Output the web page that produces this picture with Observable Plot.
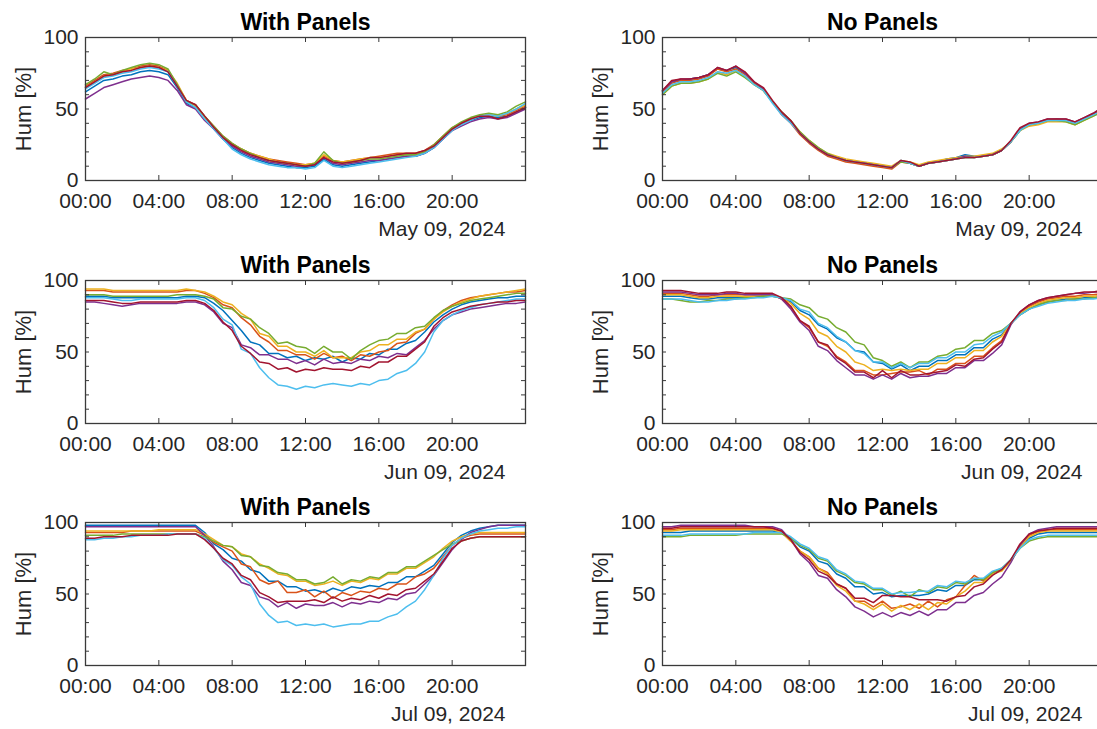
<!DOCTYPE html>
<html>
<head>
<meta charset="utf-8">
<script src="https://cdn.jsdelivr.net/npm/d3@7"></script>
<script src="https://cdn.jsdelivr.net/npm/@observablehq/plot@0.6"></script>
<style>
  html, body { margin: 0; padding: 0; background: #fff; overflow: hidden; }
  #root { position: relative; width: 1097px; height: 729px; overflow: hidden; background: #fff; }
  .cell { position: absolute; width: 548px; height: 243px; }
  .cell svg { max-width: none !important; }
</style>
</head>
<body>
<div id="root"></div>
<script>
// ---- sampling grid (hours of day, every 30 min) ----
const times = [0,0.5,1,1.5,2,2.5,3,3.5,4,4.5,5,5.5,6,6.5,7,7.5,8,8.5,9,9.5,10,10.5,11,11.5,12,12.5,13,13.5,14,14.5,15,15.5,16,16.5,17,17.5,18,18.5,19,19.5,20,20.5,21,21.5,22,22.5,23,23.5,24];
const xTicks = [0, 4, 8, 12, 16, 20];
const xTickLabels = ["00:00", "04:00", "08:00", "12:00", "16:00", "20:00"];
const yTicks = [0, 50, 100];
const yMinorTicks = [10, 20, 30, 40, 50, 60, 70, 80, 90];
const sensorNames = ["S1", "S2", "S3", "S4", "S5", "S6", "S7"];
const sensorColors = ["#0072BD", "#D95319", "#EDB120", "#7E2F8E", "#77AC30", "#4DBEEE", "#A2142F"];
const panelTitles = ["With Panels", "No Panels"];
const dateLabels = ["May 09, 2024", "Jun 09, 2024", "Jul 09, 2024"];
const yLabel = "Hum [%]";

// ---- humidity series, order: blue, orange, yellow, purple, green, cyan, dark red ----
const withMay = [
  [62,66,70,71,73,74,76,77,76,74,65,54,51,43,36,29,23,19,16,14,12,11,10,9,9,10,15,11,10,11,12,13,14,15,16,17,17,19,23,29,35,39,42,44,45,44,45,48,51],
  [66,70,74,75,77,78,80,81,80,77,67,56,53,45,38,31,26,22,19,17,15,14,13,12,11,12,17,14,13,14,15,16,17,18,19,19,19,21,25,31,37,40,43,45,46,45,46,49,52],
  [65,69,73,74,76,78,79,80,79,77,68,56,52,44,37,30,25,22,19,17,15,13,12,11,11,12,18,14,13,14,15,16,16,17,18,18,19,20,24,30,36,40,43,45,46,45,47,50,53],
  [57,61,65,67,69,71,72,73,72,70,63,53,50,42,36,29,24,20,17,15,13,12,11,10,10,11,16,12,11,12,13,14,14,15,16,17,17,19,23,29,35,38,41,43,44,43,44,47,50],
  [67,71,76,74,77,79,81,82,81,78,67,55,53,45,38,31,26,22,19,16,14,13,12,11,10,12,20,14,12,13,14,15,15,16,17,18,18,20,25,31,37,41,44,46,47,46,48,52,55],
  [64,68,72,73,75,76,78,79,78,76,66,55,51,43,36,29,22,18,15,13,11,10,9,9,8,9,14,10,9,10,11,12,13,14,15,16,17,19,23,29,35,39,42,45,46,45,47,50,54],
  [65,69,73,74,76,77,79,80,79,76,66,56,53,45,37,30,25,21,18,16,14,13,12,11,10,11,16,13,12,13,14,16,16,17,18,19,19,21,24,30,36,40,43,45,45,43,45,48,51]
];
const noMay = [
  [62,69,70,71,72,74,78,77,79,75,68,64,55,47,41,33,27,22,18,16,14,13,12,11,10,9,14,12,10,12,13,15,16,18,17,17,18,21,27,35,39,40,42,42,42,40,43,46,49],
  [62,68,70,70,71,73,78,76,78,74,68,63,55,46,40,32,26,21,17,15,13,12,11,10,9,8,13,12,10,12,13,14,15,16,16,17,18,21,27,36,39,40,42,43,42,40,43,46,50],
  [60,66,68,68,69,71,76,74,77,73,67,63,55,47,41,34,28,23,19,17,15,14,13,12,11,10,14,13,11,13,14,15,16,17,17,18,19,22,27,35,38,39,41,41,41,39,42,45,49],
  [63,69,71,71,72,74,79,77,80,75,69,64,55,47,41,33,27,22,18,16,14,13,12,11,10,9,14,12,10,12,13,14,15,17,16,17,18,21,27,36,40,41,43,43,43,41,44,47,51],
  [60,66,68,68,69,71,75,73,76,72,67,63,55,48,42,34,28,23,19,16,14,13,12,11,10,9,13,12,10,12,13,14,15,16,16,17,18,21,27,35,39,40,42,42,41,39,42,45,48],
  [61,67,69,69,70,72,76,75,77,73,67,63,54,46,40,33,27,22,18,16,14,13,12,11,10,9,14,12,10,12,13,14,15,16,16,17,18,21,27,35,39,40,42,42,42,40,43,46,49],
  [63,70,71,71,72,74,79,77,80,76,69,65,56,48,42,33,27,22,18,16,14,13,12,11,10,9,14,13,10,12,13,14,15,16,16,17,18,21,28,37,40,41,43,43,43,41,44,47,51]
];
const withJun = [
  [89,89,89,88,88,88,88,88,88,88,88,89,89,88, 84,79,72,65,57,55,49,49,46,47,44,46,45,47,43,46,45,49,48,52,52,56,58,64, 71,76,80,83,85,86,87,88,88,89,89],
  [93,93,93,92,92,92,92,92,92,92,92,93,93,91, 88,83,81,74,69,61,57,51,51,48,48,45,49,46,47,44,48,47,50,51,56,57,63,66, 73,79,83,86,88,89,90,91,92,92,93],
  [94,94,94,93,93,93,93,93,93,93,93,94,93,92, 89,85,83,77,73,63,61,54,54,50,50,47,51,46,46,46,50,51,55,55,59,59,64,66, 73,78,82,85,87,89,90,91,92,93,94],
  [85,85,84,83,82,83,84,84,84,84,84,85,85,83, 78,70,67,55,53,48,48,45,45,42,44,41,45,42,43,42,45,44,47,46,49,48,53,58, 66,72,76,78,80,81,82,83,84,84,85],
  [90,90,90,89,89,89,89,89,89,89,90,90,90,89, 87,81,80,75,73,67,63,56,57,54,53,49,54,50,50,45,51,55,58,59,63,63,67,68, 74,79,82,84,86,87,88,89,90,91,91],
  [88,88,88,87,86,86,87,87,87,87,87,88,88,86, 81,73,69,52,49,39,32,27,26,24,26,25,27,28,27,26,28,27,30,31,35,37,42,50, 64,72,76,79,81,83,84,85,86,87,87],
  [86,86,86,85,84,84,85,85,85,85,85,86,86,84, 79,71,65,54,49,43,42,38,39,36,38,37,39,38,38,37,40,39,43,43,47,47,52,57, 68,74,78,80,82,83,84,85,85,86,86]
];
const noJun = [
  [89,89,89,88,87,87,88,88,88,88,89,89,89,88, 85,79,76,69,66,60,57,51,50,43,42,38,41,37,40,40,44,44,48,48,53,53,59,62, 70,76,80,83,85,86,87,87,88,88,89],
  [91,91,91,90,89,89,90,90,90,90,90,90,90,87, 81,72,67,57,54,47,43,37,37,34,34,35,36,36,37,34,38,38,42,42,47,47,53,58, 70,77,82,85,87,88,89,89,90,90,91],
  [90,90,90,89,88,88,89,89,89,89,89,90,90,88, 84,77,73,64,61,54,50,43,41,37,38,37,38,37,38,38,42,42,46,46,51,51,57,61, 70,77,81,84,86,87,88,88,89,89,90],
  [92,92,92,91,90,90,90,91,91,90,90,90,90,87, 80,71,65,54,51,44,39,34,34,31,34,31,35,32,33,33,35,35,39,39,44,44,49,55, 69,78,83,86,88,89,90,91,91,92,92],
  [87,87,86,85,85,86,86,87,87,88,88,89,89,88, 87,83,81,75,73,67,64,57,55,46,44,40,43,39,43,43,47,48,52,53,58,58,63,65, 70,76,80,83,85,86,86,87,87,88,88],
  [87,87,87,86,85,85,86,86,87,87,88,88,89,88, 86,80,78,70,67,61,57,51,49,43,43,39,42,39,42,42,46,46,50,50,55,56,61,64, 70,76,80,82,84,85,86,86,87,87,88],
  [93,93,93,92,91,91,91,92,92,91,91,91,91,88, 82,72,68,57,55,46,42,36,36,32,37,32,37,34,34,35,36,37,41,40,45,46,52,57, 70,78,83,86,88,89,90,91,92,92,93]
];
const withJul = [
  [98,98,98,98,98,98,98,98,98,98,98,98,98,93, 85,81,75,73,67,65,59,59,55,55,52,53,51,54,52,55,54,56,55,58,58,62,62,66, 70,78,86,91,94,96,97,98,98,98,98],
  [93,93,93,93,93,94,94,94,94,94,94,94,94,91, 86,83,80,71,69,60,57,59,51,51,53,48,52,47,51,49,52,51,54,53,57,57,62,64, 68,76,84,89,91,92,92,92,92,92,92],
  [94,94,94,94,94,94,94,94,95,95,95,95,95,92, 88,84,83,78,76,71,68,64,63,59,59,56,57,59,56,59,58,61,60,64,64,68,68,72, 76,82,87,90,92,93,93,93,93,93,93],
  [97,97,97,97,97,97,97,97,97,97,97,97,97,91, 83,73,67,58,56,48,46,41,44,40,43,42,42,44,41,44,43,45,44,47,46,50,51,57, 63,72,81,88,93,95,97,98,98,98,98],
  [91,91,91,91,92,92,92,92,92,92,92,92,92,90, 87,84,83,77,76,70,69,65,64,60,60,57,58,62,57,60,59,62,61,65,65,69,69,73, 77,81,85,87,89,90,90,90,90,90,90],
  [88,88,89,89,90,90,91,91,91,92,92,92,92,89, 82,74,70,62,57,43,35,30,31,28,29,28,29,27,28,29,29,31,31,34,36,41,45,53, 63,75,84,89,92,94,95,96,96,97,97],
  [89,89,90,90,90,91,91,91,91,91,92,92,92,88, 82,75,71,63,60,51,48,44,45,45,45,46,44,48,45,47,46,49,47,50,49,53,54,59, 64,73,82,87,89,90,90,90,90,90,90]
];
const noJul = [
  [93,93,93,94,94,94,94,94,94,94,94,94,94,93, 89,83,80,73,71,64,61,55,55,50,51,48,49,49,49,50,53,52,56,56,60,60,65,67, 74,83,89,92,93,93,93,93,93,93,93],
  [95,95,96,96,96,96,96,96,96,96,96,96,96,93, 87,80,76,68,65,57,54,45,45,41,45,40,41,43,40,45,41,46,48,56,63,59,65,67, 73,84,91,94,95,95,95,95,95,95,95],
  [94,94,95,95,95,95,95,95,95,95,95,95,95,93, 87,80,76,68,64,56,52,45,43,39,43,38,42,39,43,39,44,43,48,52,58,58,64,66, 73,83,90,93,94,94,94,94,94,94,94],
  [97,97,98,98,98,98,98,98,98,98,97,97,97,95, 88,78,72,63,61,53,48,41,38,34,37,34,37,35,38,35,39,39,44,44,49,51,57,62, 72,84,92,95,96,97,97,97,97,97,97],
  [90,90,90,91,91,91,91,91,91,92,92,92,92,92, 89,84,81,75,73,66,63,58,57,53,53,49,52,48,53,51,55,54,58,57,61,60,65,68, 74,82,87,89,90,90,90,90,90,90,90],
  [91,91,91,92,92,92,92,92,92,92,93,93,93,93, 90,85,82,76,74,67,64,59,58,54,54,50,51,51,52,52,56,55,59,58,61,61,66,68, 74,82,88,90,91,91,91,91,91,91,91],
  [96,96,97,97,97,97,97,97,97,97,97,97,96,94, 88,79,74,66,63,57,54,47,47,44,49,49,48,48,46,46,46,45,48,49,55,57,63,67, 74,85,92,94,95,96,96,96,96,96,96]
];

const FONT = "'Liberation Sans', Arial, Helvetica, sans-serif";
const AX = "#3a3a3a";
const W = 548, H = 243, ML = 85, MR = 23, MT = 37, MB = 63;
const FW = W - ML - MR, FH = H - MT - MB;

function toRows(series) {
  const rows = [];
  series.forEach((vals, s) => vals.forEach((v, i) => rows.push({t: times[i], v, s: sensorNames[s]})));
  return rows;
}

function panel(title, dateLabel, series) {
  return Plot.plot({
    width: W, height: H,
    marginLeft: ML, marginRight: MR, marginTop: MT, marginBottom: MB,
    style: {fontFamily: FONT, fontSize: "21px", color: "#262626", background: "transparent", overflow: "visible", maxWidth: "none"},
    x: {type: "linear", domain: [0, 24]},
    y: {type: "linear", domain: [0, 100]},
    color: {domain: sensorNames, range: sensorColors},
    marks: [
      Plot.line(toRows(series), {x: "t", y: "v", z: "s", stroke: "s", strokeWidth: 1.5}),
      // inward ticks
      Plot.ruleX(xTicks, {x: d => d, insetTop: FH - 5, stroke: AX, strokeWidth: 1}),
      Plot.ruleX(xTicks, {x: d => d, insetBottom: FH - 5, stroke: AX, strokeWidth: 1}),
      Plot.ruleY(yMinorTicks, {y: d => d, insetRight: FW - 4, stroke: AX, strokeWidth: 1}),
      Plot.ruleY(yMinorTicks, {y: d => d, insetLeft: FW - 4, stroke: AX, strokeWidth: 1}),
      Plot.frame({stroke: AX, strokeWidth: 1.3}),
      Plot.axisX(xTicks, {anchor: "bottom", tickSize: 0, tickPadding: 13, label: null,
        tickFormat: d => xTickLabels[xTicks.indexOf(d)], fill: "#262626"}),
      Plot.axisY(yTicks, {anchor: "left", tickSize: 0, tickPadding: 7, label: null, fill: "#262626"}),
      Plot.text([yLabel], {frameAnchor: "left", dx: -62, rotate: -90, textAnchor: "middle", lineAnchor: "middle", fontSize: 22, fill: "#262626"}),
      Plot.text([title], {frameAnchor: "top", dy: -15, textAnchor: "middle", lineAnchor: "middle", fontSize: 23, fontWeight: "bold", fill: "#000"}),
      Plot.text([dateLabel], {frameAnchor: "bottom-right", dx: -20, dy: 49, textAnchor: "end", lineAnchor: "middle", fontSize: 21, fill: "#262626"})
    ]
  });
}

const root = document.getElementById("root");
const rowsData = [[withMay, noMay], [withJun, noJun], [withJul, noJul]];
const rowTops = [0, 243, 485];
const colLefts = [0, 577];
rowsData.forEach((pair, r) => {
  pair.forEach((series, c) => {
    const div = document.createElement("div");
    div.className = "cell";
    div.style.left = colLefts[c] + "px";
    div.style.top = rowTops[r] + "px";
    div.appendChild(panel(panelTitles[c], dateLabels[r], series));
    root.appendChild(div);
  });
});
</script>
</body>
</html>
